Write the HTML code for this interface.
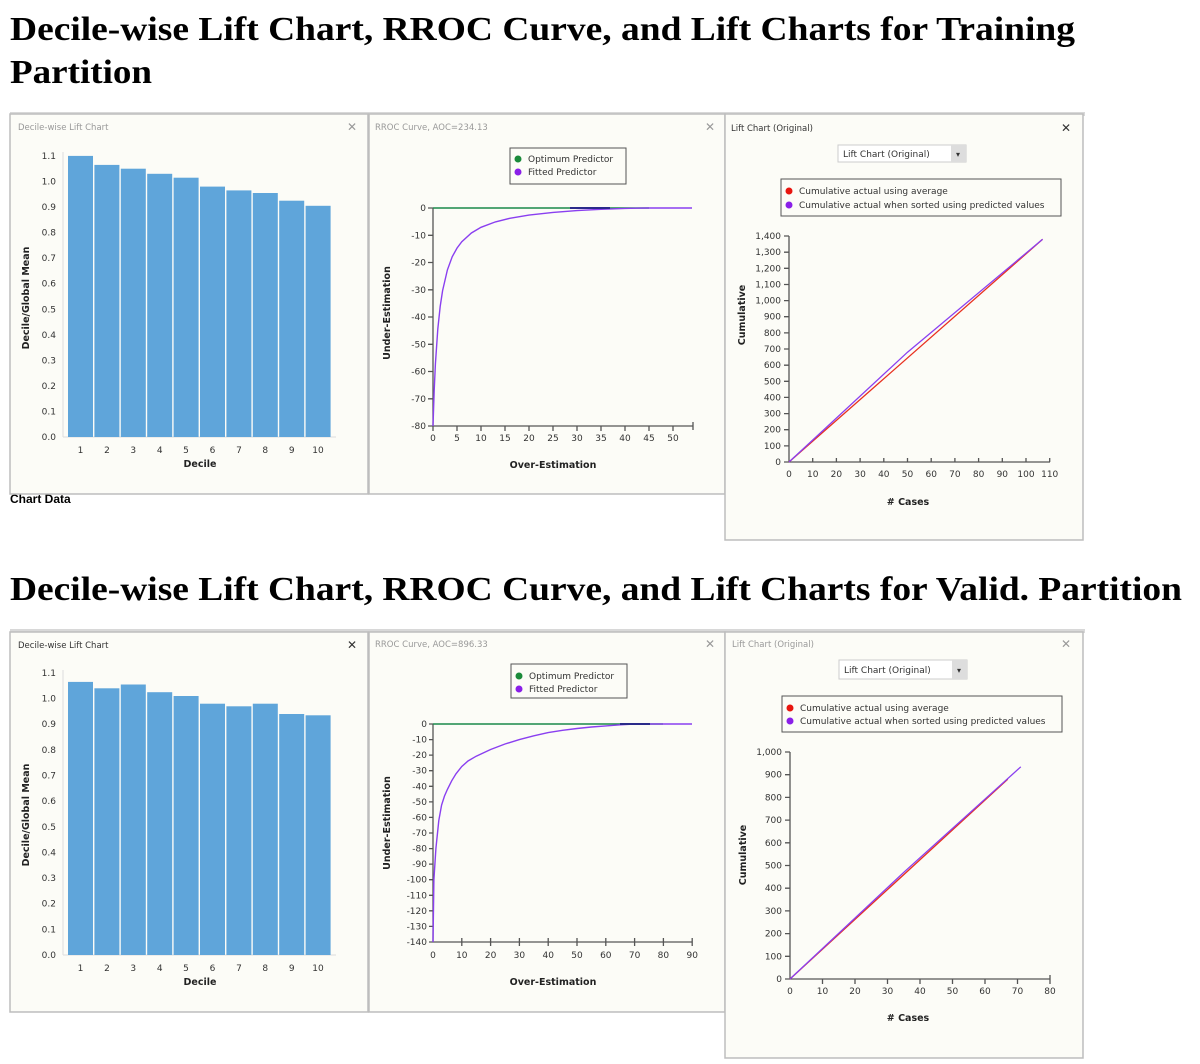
<!DOCTYPE html>
<html><head><meta charset="utf-8"><style>
html,body{margin:0;padding:0;background:#fff;}
svg{display:block;}
.t{font-family:"Liberation Serif",serif;font-weight:bold;font-size:34px;fill:#000;}
.s{font-family:"DejaVu Sans","Liberation Sans",sans-serif;font-size:9px;fill:#333;}
.pt{font-family:"DejaVu Sans","Liberation Sans",sans-serif;font-size:8.5px;fill:#999;}
.al{font-family:"DejaVu Sans","Liberation Sans",sans-serif;font-size:9.5px;fill:#222;font-weight:bold;}
.r{text-anchor:end;} .m{text-anchor:middle;}
.panel{fill:#fcfcf7;stroke:#bdbdbd;stroke-width:1.5;}
.ax{stroke:#555;stroke-width:1.3;fill:none;}
.bar{fill:#5fa5da;}
</style></head><body>
<svg width="1200" height="1064" viewBox="0 0 1200 1064" xmlns="http://www.w3.org/2000/svg">
<rect width="1200" height="1064" fill="#fff"/>
<text class="t" x="10" y="40" textLength="1065" lengthAdjust="spacingAndGlyphs">Decile-wise Lift Chart, RROC Curve, and Lift Charts for Training</text>
<text class="t" x="10" y="83" textLength="142" lengthAdjust="spacingAndGlyphs">Partition</text>
<text class="t" x="10" y="600" textLength="1172" lengthAdjust="spacingAndGlyphs">Decile-wise Lift Chart, RROC Curve, and Lift Charts for Valid. Partition</text>

<!-- ===== TOP ROW ===== -->
<rect x="10" y="112" width="1075" height="4" fill="#d8d8d8"/>
<text x="10" y="503" style="font-family:'Liberation Sans',sans-serif;font-weight:bold;font-size:12px">Chart Data</text>
<rect x="10" y="114" width="358" height="380" class="panel"/>
<text class="pt" x="18" y="130">Decile-wise Lift Chart</text>
<text x="352" y="131" class="m" style="font-family:'DejaVu Sans',sans-serif;font-size:12px;fill:#999">✕</text>
<g class="s">
<text class="r" x="56" y="440">0.0</text><text class="r" x="56" y="414.5">0.1</text><text class="r" x="56" y="389">0.2</text><text class="r" x="56" y="363.4">0.3</text><text class="r" x="56" y="337.8">0.4</text><text class="r" x="56" y="312.3">0.5</text><text class="r" x="56" y="286.7">0.6</text><text class="r" x="56" y="261.2">0.7</text><text class="r" x="56" y="235.6">0.8</text><text class="r" x="56" y="210.1">0.9</text><text class="r" x="56" y="184.5">1.0</text><text class="r" x="56" y="159">1.1</text>
<text class="m" x="80.5" y="453">1</text><text class="m" x="107" y="453">2</text><text class="m" x="133.3" y="453">3</text><text class="m" x="159.7" y="453">4</text><text class="m" x="186" y="453">5</text><text class="m" x="212.5" y="453">6</text><text class="m" x="239" y="453">7</text><text class="m" x="265.3" y="453">8</text><text class="m" x="291.7" y="453">9</text><text class="m" x="318" y="453">10</text>
</g>
<line x1="63" y1="152" x2="63" y2="437" stroke="#ddd"/><line x1="63" y1="437" x2="336" y2="437" stroke="#ddd"/>
<rect class="bar" x="68" y="155.9" width="25" height="281.1"/>
<rect class="bar" x="94.4" y="164.9" width="25" height="272.1"/>
<rect class="bar" x="120.8" y="168.7" width="25" height="268.3"/>
<rect class="bar" x="147.2" y="173.8" width="25" height="263.2"/>
<rect class="bar" x="173.6" y="177.7" width="25" height="259.3"/>
<rect class="bar" x="200" y="186.6" width="25" height="250.4"/>
<rect class="bar" x="226.4" y="190.4" width="25" height="246.6"/>
<rect class="bar" x="252.8" y="193" width="25" height="244"/>
<rect class="bar" x="279.2" y="200.7" width="25" height="236.3"/>
<rect class="bar" x="305.6" y="205.8" width="25" height="231.2"/>
<text class="al m" x="200" y="467">Decile</text>
<text class="al m" transform="translate(29,298) rotate(-90)">Decile/Global Mean</text>

<rect x="369" y="114" width="356" height="380" class="panel"/>
<text class="pt" x="375" y="130">RROC Curve, AOC=234.13</text>
<text x="710" y="131" class="m" style="font-family:'DejaVu Sans',sans-serif;font-size:12px;fill:#999">✕</text>
<rect x="510" y="148" width="116" height="36" fill="#fcfcf7" stroke="#555"/>
<circle cx="518" cy="159" r="3.5" fill="#1a8a3a"/><text class="s" x="528" y="162">Optimum Predictor</text>
<circle cx="518" cy="172" r="3.5" fill="#8a1fe8"/><text class="s" x="528" y="175">Fitted Predictor</text>
<g class="s">
<text class="r" x="426" y="211">0</text><text class="r" x="426" y="238.3">-10</text><text class="r" x="426" y="265.5">-20</text><text class="r" x="426" y="292.8">-30</text><text class="r" x="426" y="320">-40</text><text class="r" x="426" y="347.3">-50</text><text class="r" x="426" y="374.5">-60</text><text class="r" x="426" y="401.8">-70</text><text class="r" x="426" y="429">-80</text>
<text class="m" x="433" y="441">0</text><text class="m" x="457" y="441">5</text><text class="m" x="481" y="441">10</text><text class="m" x="505" y="441">15</text><text class="m" x="529" y="441">20</text><text class="m" x="553" y="441">25</text><text class="m" x="577" y="441">30</text><text class="m" x="601" y="441">35</text><text class="m" x="625" y="441">40</text><text class="m" x="649" y="441">45</text><text class="m" x="673" y="441">50</text>
</g>
<path class="ax" d="M433 208V426H693M428 208H433M428 235.3H433M428 262.5H433M428 289.8H433M428 317H433M428 344.3H433M428 371.5H433M428 398.8H433M428 426H433M433 426V431M457 426V431M481 426V431M505 426V431M529 426V431M553 426V431M577 426V431M601 426V431M625 426V431M649 426V431M673 426V431M693 422V430"/>
<line x1="433" y1="208" x2="649" y2="208" stroke="#1a8a4a" stroke-width="1.5"/>
<polyline fill="none" stroke="#8a3ff0" stroke-width="1.4" points="433,426 434.2,390.3 435.4,364.1 437.8,329 440.2,306.4 442.6,290.6 447.4,269.9 452.2,256.8 457,248.1 461.8,241.7 471.4,233 481,227.3 495.4,221.9 509.8,218.3 529,215.1 553,212.4 577,210.6 601,209.3 625,208.4 649,208 692,208"/>
<line x1="570" y1="208" x2="610" y2="208" stroke="#2a2a8a" stroke-width="2"/>
<text class="al m" x="553" y="468">Over-Estimation</text>
<text class="al m" transform="translate(390,313) rotate(-90)">Under-Estimation</text>

<rect x="725" y="114" width="358" height="426" class="panel"/>
<text class="pt" x="731" y="131" style="fill:#333">Lift Chart (Original)</text>
<text x="1066" y="132" class="m" style="font-family:'DejaVu Sans',sans-serif;font-size:12px;fill:#333">✕</text>
<rect x="838" y="145" width="128" height="17" fill="#fff" stroke="#ccc"/><rect x="951" y="145" width="15" height="17" fill="#ddd"/>
<text class="s" x="843" y="157">Lift Chart (Original)</text><text class="s m" x="958" y="157" style="font-size:8px">▾</text>
<rect x="781" y="179" width="280" height="37" fill="#fcfcf7" stroke="#555"/>
<circle cx="789" cy="191" r="3.5" fill="#e8150f"/><text class="s" x="799" y="194">Cumulative actual using average</text>
<circle cx="789" cy="205" r="3.5" fill="#8a1fe8"/><text class="s" x="799" y="208">Cumulative actual when sorted using predicted values</text>
<g class="s">
<text class="r" x="781" y="465">0</text><text class="r" x="781" y="448.9">100</text><text class="r" x="781" y="432.7">200</text><text class="r" x="781" y="416.6">300</text><text class="r" x="781" y="400.4">400</text><text class="r" x="781" y="384.3">500</text><text class="r" x="781" y="368.2">600</text><text class="r" x="781" y="352">700</text><text class="r" x="781" y="335.9">800</text><text class="r" x="781" y="319.7">900</text><text class="r" x="781" y="303.6">1,000</text><text class="r" x="781" y="287.5">1,100</text><text class="r" x="781" y="271.3">1,200</text><text class="r" x="781" y="255.2">1,300</text><text class="r" x="781" y="239">1,400</text>
<text class="m" x="789" y="477">0</text><text class="m" x="812.7" y="477">10</text><text class="m" x="836.4" y="477">20</text><text class="m" x="860.1" y="477">30</text><text class="m" x="883.8" y="477">40</text><text class="m" x="907.5" y="477">50</text><text class="m" x="931.2" y="477">60</text><text class="m" x="954.9" y="477">70</text><text class="m" x="978.6" y="477">80</text><text class="m" x="1002.3" y="477">90</text><text class="m" x="1026" y="477">100</text><text class="m" x="1049.7" y="477">110</text>
</g>
<path class="ax" d="M789 236V462H1050M784 462H789M784 445.9H789M784 429.7H789M784 413.6H789M784 397.4H789M784 381.3H789M784 365.2H789M784 349H789M784 332.9H789M784 316.7H789M784 300.6H789M784 284.5H789M784 268.3H789M784 252.2H789M784 236H789M812.7 458V462M836.4 458V462M860.1 458V462M883.8 458V462M907.5 458V462M931.2 458V462M954.9 458V462M978.6 458V462M1002.3 458V462M1026 458V462M1049.7 458V462"/>
<line x1="789" y1="462" x2="1042.6" y2="239.3" stroke="#e8301f" stroke-width="1.3"/>
<polyline fill="none" stroke="#8a3ff0" stroke-width="1.3" points="789,462 907.5,352.2 1042.6,239.3"/>
<text class="al m" x="908" y="505">&#35; Cases</text>
<text class="al m" transform="translate(745,315) rotate(-90)">Cumulative</text>

<!-- ===== BOTTOM ROW ===== -->
<rect x="10" y="629" width="1075" height="4" fill="#d8d8d8"/>
<rect x="10" y="632" width="358" height="380" class="panel"/>
<text class="pt" x="18" y="648" style="fill:#333">Decile-wise Lift Chart</text>
<text x="352" y="649" class="m" style="font-family:'DejaVu Sans',sans-serif;font-size:12px;fill:#333">✕</text>
<g class="s">
<text class="r" x="56" y="958">0.0</text><text class="r" x="56" y="932.4">0.1</text><text class="r" x="56" y="906.7">0.2</text><text class="r" x="56" y="881.1">0.3</text><text class="r" x="56" y="855.4">0.4</text><text class="r" x="56" y="829.8">0.5</text><text class="r" x="56" y="804.2">0.6</text><text class="r" x="56" y="778.5">0.7</text><text class="r" x="56" y="752.9">0.8</text><text class="r" x="56" y="727.2">0.9</text><text class="r" x="56" y="701.6">1.0</text><text class="r" x="56" y="676">1.1</text>
<text class="m" x="80.5" y="971">1</text><text class="m" x="107" y="971">2</text><text class="m" x="133.3" y="971">3</text><text class="m" x="159.7" y="971">4</text><text class="m" x="186" y="971">5</text><text class="m" x="212.5" y="971">6</text><text class="m" x="239" y="971">7</text><text class="m" x="265.3" y="971">8</text><text class="m" x="291.7" y="971">9</text><text class="m" x="318" y="971">10</text>
</g>
<line x1="63" y1="670" x2="63" y2="955" stroke="#ddd"/><line x1="63" y1="955" x2="336" y2="955" stroke="#ddd"/>
<rect class="bar" x="68" y="681.9" width="25" height="273.1"/>
<rect class="bar" x="94.4" y="688.3" width="25" height="266.7"/>
<rect class="bar" x="120.8" y="684.5" width="25" height="270.5"/>
<rect class="bar" x="147.2" y="692.2" width="25" height="262.8"/>
<rect class="bar" x="173.6" y="696" width="25" height="259"/>
<rect class="bar" x="200" y="703.7" width="25" height="251.3"/>
<rect class="bar" x="226.4" y="706.3" width="25" height="248.7"/>
<rect class="bar" x="252.8" y="703.7" width="25" height="251.3"/>
<rect class="bar" x="279.2" y="714" width="25" height="241"/>
<rect class="bar" x="305.6" y="715.3" width="25" height="239.7"/>
<text class="al m" x="200" y="985">Decile</text>
<text class="al m" transform="translate(29,815) rotate(-90)">Decile/Global Mean</text>

<rect x="369" y="632" width="356" height="380" class="panel"/>
<text class="pt" x="375" y="647">RROC Curve, AOC=896.33</text>
<text x="710" y="648" class="m" style="font-family:'DejaVu Sans',sans-serif;font-size:12px;fill:#999">✕</text>
<rect x="511" y="664" width="116" height="34" fill="#fcfcf7" stroke="#555"/>
<circle cx="519" cy="676" r="3.5" fill="#1a8a3a"/><text class="s" x="529" y="679">Optimum Predictor</text>
<circle cx="519" cy="689" r="3.5" fill="#8a1fe8"/><text class="s" x="529" y="692">Fitted Predictor</text>
<g class="s">
<text class="r" x="427" y="727">0</text><text class="r" x="427" y="742.6">-10</text><text class="r" x="427" y="758.1">-20</text><text class="r" x="427" y="773.7">-30</text><text class="r" x="427" y="789.3">-40</text><text class="r" x="427" y="804.9">-50</text><text class="r" x="427" y="820.4">-60</text><text class="r" x="427" y="836">-70</text><text class="r" x="427" y="851.6">-80</text><text class="r" x="427" y="867.1">-90</text><text class="r" x="427" y="882.7">-100</text><text class="r" x="427" y="898.3">-110</text><text class="r" x="427" y="913.8">-120</text><text class="r" x="427" y="929.4">-130</text><text class="r" x="427" y="945">-140</text>
<text class="m" x="433" y="958">0</text><text class="m" x="461.8" y="958">10</text><text class="m" x="490.6" y="958">20</text><text class="m" x="519.4" y="958">30</text><text class="m" x="548.2" y="958">40</text><text class="m" x="577" y="958">50</text><text class="m" x="605.8" y="958">60</text><text class="m" x="634.6" y="958">70</text><text class="m" x="663.4" y="958">80</text><text class="m" x="692.2" y="958">90</text>
</g>
<path class="ax" d="M433 724V942H692M429 724H433M429 739.6H433M429 755.1H433M429 770.7H433M429 786.3H433M429 801.9H433M429 817.4H433M429 833H433M429 848.6H433M429 864.1H433M429 879.7H433M429 895.3H433M429 910.8H433M429 926.4H433M429 942H433M461.8 938V946M490.6 938V946M519.4 938V946M548.2 938V946M577 938V946M605.8 938V946M634.6 938V946M663.4 938V946M692.2 938V946"/>
<line x1="433" y1="724" x2="663" y2="724" stroke="#1a8a4a" stroke-width="1.5"/>
<polyline fill="none" stroke="#8a3ff0" stroke-width="1.4" points="433,942 433.9,879.7 435.9,848.6 438.8,820.5 441.6,805 444.5,796 447.4,789.4 451.7,780.8 456,773.8 461.8,766.5 468,761 476.2,756.2 490.6,749.5 505,744 519.4,739.6 533.8,735.8 548.2,732.6 562.6,730.3 577,728.5 591.4,727 605.8,725.9 620.2,724.8 634.6,724 692,724"/>
<line x1="620" y1="724" x2="650" y2="724" stroke="#2a2a8a" stroke-width="2"/>
<text class="al m" x="553" y="985">Over-Estimation</text>
<text class="al m" transform="translate(390,823) rotate(-90)">Under-Estimation</text>

<rect x="725" y="632" width="358" height="426" class="panel"/>
<text class="pt" x="732" y="647">Lift Chart (Original)</text>
<text x="1066" y="648" class="m" style="font-family:'DejaVu Sans',sans-serif;font-size:12px;fill:#999">✕</text>
<rect x="839" y="660" width="128" height="19" fill="#fff" stroke="#ccc"/><rect x="952" y="660" width="15" height="19" fill="#ddd"/>
<text class="s" x="844" y="673">Lift Chart (Original)</text><text class="s m" x="959" y="673" style="font-size:8px">▾</text>
<rect x="782" y="696" width="280" height="36" fill="#fcfcf7" stroke="#555"/>
<circle cx="790" cy="708" r="3.5" fill="#e8150f"/><text class="s" x="800" y="711">Cumulative actual using average</text>
<circle cx="790" cy="721" r="3.5" fill="#8a1fe8"/><text class="s" x="800" y="724">Cumulative actual when sorted using predicted values</text>
<g class="s">
<text class="r" x="782" y="982">0</text><text class="r" x="782" y="959.3">100</text><text class="r" x="782" y="936.6">200</text><text class="r" x="782" y="913.9">300</text><text class="r" x="782" y="891.2">400</text><text class="r" x="782" y="868.5">500</text><text class="r" x="782" y="845.8">600</text><text class="r" x="782" y="823.1">700</text><text class="r" x="782" y="800.4">800</text><text class="r" x="782" y="777.7">900</text><text class="r" x="782" y="755">1,000</text>
<text class="m" x="790" y="994">0</text><text class="m" x="822.5" y="994">10</text><text class="m" x="855" y="994">20</text><text class="m" x="887.5" y="994">30</text><text class="m" x="920" y="994">40</text><text class="m" x="952.5" y="994">50</text><text class="m" x="985" y="994">60</text><text class="m" x="1017.5" y="994">70</text><text class="m" x="1050" y="994">80</text>
</g>
<path class="ax" d="M790 752V979H1050M785 979H790M785 956.3H790M785 933.6H790M785 910.9H790M785 888.2H790M785 865.5H790M785 842.8H790M785 820.1H790M785 797.4H790M785 774.7H790M785 752H790M822.5 979V984M855 979V984M887.5 979V984M920 979V984M952.5 979V984M985 979V984M1017.5 979V984M1050 975V984"/>
<line x1="790" y1="979" x2="1007.8" y2="779.2" stroke="#e8301f" stroke-width="1.3"/>
<polyline fill="none" stroke="#8a3ff0" stroke-width="1.3" points="790,979 903.8,872.3 1020.8,766.8"/>
<text class="al m" x="908" y="1021">&#35; Cases</text>
<text class="al m" transform="translate(746,855) rotate(-90)">Cumulative</text>
</svg>
</body></html>
